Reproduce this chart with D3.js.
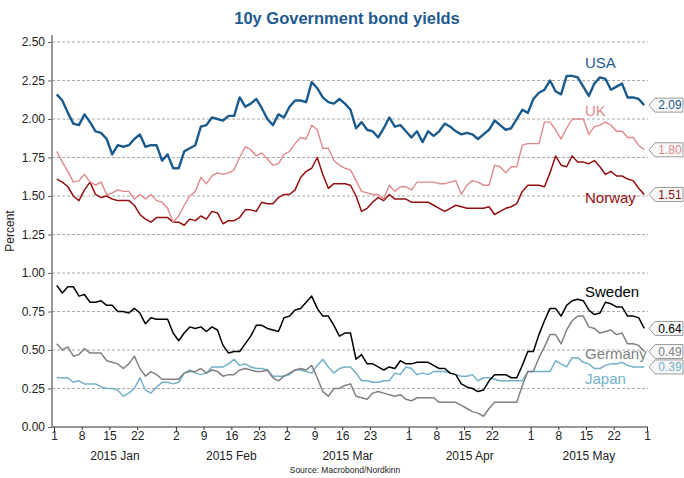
<!DOCTYPE html>
<html>
<head>
<meta charset="utf-8">
<script src="https://cdn.jsdelivr.net/npm/d3@7"></script>
<style>
  html, body { margin: 0; padding: 0; background: #fff; }
  svg { display: block; font-family: "Liberation Sans", Arial, sans-serif; }
</style>
</head>
<body>
<div id="chart"></div>
<script>
/* 10y government bond yields — business-day x axis, Jan 1 to Jun 1 2015 */

// x positions are business-day indexes (Jan 1 2015 = 0, Jun 1 = 107)
const tickIdx    = [0, 5, 10, 15, 22, 27, 32, 37, 42, 47, 52, 57, 64, 69, 74, 79, 86, 91, 96, 101, 107];
const tickLabels = ["1","8","15","22","2","9","16","23","2","9","16","23","1","8","15","22","1","8","15","22","1"];
const monthStart = [0, 22, 42, 64, 86, 107];
const monthNames = ["2015 Jan", "2015 Feb", "2015 Mar", "2015 Apr", "2015 May"];
const yTicks     = [0, 0.25, 0.5, 0.75, 1, 1.25, 1.5, 1.75, 2, 2.25, 2.5];

const usa = [
  2.16, 2.12, 2.04, 1.97, 1.96, 2.03, 1.98, 1.92, 1.91, 1.87,
  1.77, 1.83, 1.82, 1.83, 1.87, 1.90, 1.82, 1.83, 1.83, 1.73,
  1.77, 1.68, 1.68, 1.79, 1.81, 1.83, 1.95, 1.96, 2.01, 2.00,
  1.99, 2.02, 2.02, 2.14, 2.08, 2.10, 2.13, 2.07, 2.00, 1.96,
  2.03, 2.01, 2.08, 2.12, 2.12, 2.11, 2.24, 2.20, 2.14, 2.11,
  2.10, 2.13, 2.10, 2.06, 1.94, 1.98, 1.93, 1.92, 1.88, 1.94,
  2.01, 1.95, 1.96, 1.92, 1.88, 1.92, 1.85, 1.92, 1.89, 1.92,
  1.97, 1.95, 1.92, 1.90, 1.91, 1.90, 1.87, 1.90, 1.93, 1.99,
  1.96, 1.93, 1.94, 2.00, 2.06, 2.04, 2.13, 2.17, 2.19, 2.25,
  2.18, 2.16, 2.28, 2.28, 2.27, 2.21, 2.15, 2.23, 2.27, 2.26,
  2.19, 2.21, 2.23, 2.14, 2.14, 2.13, 2.09
];
const uk = [
  1.79, 1.72, 1.66, 1.59, 1.60, 1.64, 1.59, 1.57, 1.59, 1.51,
  1.52, 1.54, 1.53, 1.53, 1.48, 1.51, 1.48, 1.51, 1.47, 1.46,
  1.42, 1.33, 1.37, 1.44, 1.50, 1.53, 1.62, 1.58, 1.63, 1.65,
  1.64, 1.65, 1.67, 1.75, 1.82, 1.80, 1.76, 1.78, 1.74, 1.70,
  1.71, 1.77, 1.79, 1.84, 1.88, 1.87, 1.96, 1.93, 1.81, 1.81,
  1.73, 1.70, 1.68, 1.67, 1.60, 1.53, 1.52, 1.51, 1.51, 1.48,
  1.57, 1.53, 1.56, 1.56, 1.54, 1.59, 1.59, 1.59, 1.59, 1.58,
  1.58, 1.59, 1.60, 1.51, 1.57, 1.60, 1.59, 1.57, 1.57, 1.70,
  1.69, 1.65, 1.69, 1.69, 1.83, 1.84, 1.84, 1.84, 1.98, 1.98,
  1.93, 1.87, 1.94, 2.00, 2.00, 2.00, 1.90, 1.95, 1.96, 1.98,
  1.96, 1.92, 1.92, 1.88, 1.88, 1.83, 1.80
];
const norway = [
  1.61, 1.59, 1.56, 1.50, 1.47, 1.54, 1.59, 1.51, 1.49, 1.50,
  1.48, 1.47, 1.47, 1.47, 1.44, 1.38, 1.35, 1.33, 1.36, 1.36,
  1.36, 1.33, 1.33, 1.31, 1.35, 1.34, 1.37, 1.35, 1.40, 1.39,
  1.32, 1.34, 1.34, 1.36, 1.41, 1.41, 1.40, 1.46, 1.45, 1.45,
  1.49, 1.51, 1.51, 1.54, 1.62, 1.66, 1.68, 1.75, 1.64, 1.55,
  1.58, 1.58, 1.58, 1.57, 1.50, 1.40, 1.42, 1.46, 1.49, 1.47,
  1.51, 1.48, 1.48, 1.48, 1.46, 1.46, 1.46, 1.46, 1.44, 1.42,
  1.40, 1.42, 1.44, 1.43, 1.42, 1.42, 1.42, 1.42, 1.43, 1.38,
  1.40, 1.42, 1.43, 1.45, 1.53, 1.57, 1.57, 1.57, 1.56, 1.65,
  1.76, 1.70, 1.69, 1.76, 1.72, 1.72, 1.71, 1.73, 1.69, 1.64,
  1.66, 1.63, 1.63, 1.61, 1.60, 1.55, 1.51
];
const sweden = [
  0.92, 0.87, 0.91, 0.91, 0.85, 0.86, 0.81, 0.81, 0.82, 0.79,
  0.79, 0.75, 0.75, 0.74, 0.77, 0.74, 0.67, 0.71, 0.70, 0.70,
  0.70, 0.61, 0.56, 0.61, 0.65, 0.64, 0.65, 0.62, 0.65, 0.63,
  0.53, 0.48, 0.49, 0.49, 0.54, 0.59, 0.66, 0.66, 0.64, 0.63,
  0.62, 0.71, 0.72, 0.76, 0.77, 0.81, 0.85, 0.77, 0.72, 0.72,
  0.66, 0.59, 0.61, 0.61, 0.44, 0.47, 0.41, 0.41, 0.39, 0.37,
  0.39, 0.38, 0.43, 0.41, 0.41, 0.42, 0.42, 0.42, 0.40, 0.38,
  0.38, 0.35, 0.34, 0.28, 0.26, 0.25, 0.23, 0.24, 0.30, 0.34,
  0.34, 0.34, 0.32, 0.32, 0.40, 0.49, 0.49, 0.60, 0.69, 0.77,
  0.77, 0.72, 0.79, 0.82, 0.83, 0.82, 0.76, 0.73, 0.74, 0.81,
  0.80, 0.78, 0.78, 0.72, 0.72, 0.71, 0.64
];
const germany = [
  0.54, 0.50, 0.52, 0.46, 0.47, 0.51, 0.48, 0.48, 0.48, 0.43,
  0.42, 0.41, 0.38, 0.41, 0.46, 0.38, 0.33, 0.36, 0.34, 0.31,
  0.31, 0.31, 0.31, 0.35, 0.36, 0.36, 0.38, 0.35, 0.37, 0.36,
  0.33, 0.34, 0.34, 0.37, 0.38, 0.37, 0.36, 0.36, 0.37, 0.32,
  0.30, 0.33, 0.35, 0.37, 0.38, 0.37, 0.40, 0.32, 0.23, 0.20,
  0.25, 0.25, 0.27, 0.28, 0.20, 0.19, 0.18, 0.22, 0.23, 0.22,
  0.21, 0.20, 0.21, 0.18, 0.17, 0.19, 0.19, 0.19, 0.19, 0.16,
  0.16, 0.16, 0.16, 0.14, 0.12, 0.10, 0.09, 0.07, 0.12, 0.16,
  0.16, 0.16, 0.16, 0.16, 0.27, 0.36, 0.36, 0.45, 0.52, 0.60,
  0.60, 0.54, 0.63, 0.69, 0.72, 0.72, 0.65, 0.64, 0.61, 0.62,
  0.63, 0.60, 0.61, 0.54, 0.54, 0.53, 0.49
];
const japan = [
  0.32, 0.32, 0.32, 0.29, 0.30, 0.28, 0.28, 0.28, 0.26, 0.25,
  0.25, 0.24, 0.20, 0.22, 0.25, 0.32, 0.24, 0.22, 0.26, 0.29,
  0.29, 0.28, 0.29, 0.35, 0.37, 0.35, 0.34, 0.35, 0.39, 0.39,
  0.39, 0.41, 0.44, 0.40, 0.41, 0.39, 0.38, 0.38, 0.37, 0.33,
  0.33, 0.33, 0.34, 0.37, 0.37, 0.36, 0.35, 0.40, 0.44, 0.39,
  0.35, 0.38, 0.39, 0.39, 0.35, 0.30, 0.30, 0.29, 0.29, 0.30,
  0.30, 0.35, 0.34, 0.39, 0.38, 0.34, 0.35, 0.34, 0.36, 0.36,
  0.36, 0.35, 0.34, 0.33, 0.33, 0.34, 0.30, 0.32, 0.32, 0.31,
  0.30, 0.30, 0.30, 0.30, 0.30, 0.36, 0.36, 0.36, 0.36, 0.36,
  0.43, 0.41, 0.39, 0.45, 0.45, 0.42, 0.41, 0.38, 0.38, 0.40,
  0.41, 0.41, 0.42, 0.40, 0.39, 0.39, 0.39
];

const SERIES = [
  { name: "USA",     values: usa,     color: "#1b5a8c", width: 2.4, labelY: 63 },
  { name: "UK",      values: uk,      color: "#e0898a", width: 1.4, labelY: 111 },
  { name: "Norway",  values: norway,  color: "#930f0f", width: 1.5, labelY: 198 },
  { name: "Sweden",  values: sweden,  color: "#000000", width: 1.5, labelY: 292 },
  { name: "Germany", values: germany, color: "#808080", width: 1.5, labelY: 354 },
  { name: "Japan",   values: japan,   color: "#72afc9", width: 1.5, labelY: 379 },
];

const W = 684, H = 478;
const plotL = 52, plotR = 648, plotT = 35, plotB = 427;

const svg = d3.select("#chart").append("svg")
  .attr("width", W).attr("height", H);

const x = d3.scaleLinear().domain([0, 107]).range([54, 647]);
const y = d3.scaleLinear().domain([0, 2.5]).range([plotB, 42]);

// Title
svg.append("text")
  .attr("x", 347).attr("y", 24)
  .attr("text-anchor", "middle")
  .attr("font-size", 16.5).attr("font-weight", "bold")
  .attr("fill", "#1f5a8f")
  .text("10y Government bond yields");

// Gridlines
svg.append("g")
  .selectAll("line")
  .data(yTicks.filter(d => d > 0))
  .join("line")
  .attr("x1", plotL).attr("x2", plotR)
  .attr("y1", d => y(d)).attr("y2", d => y(d))
  .attr("stroke", "#a8a8a8").attr("stroke-width", 1)
  .attr("stroke-dasharray", "3,2");

// Y axis
const yAxis = svg.append("g")
  .attr("transform", `translate(${plotL},0)`)
  .call(d3.axisLeft(y).tickValues(yTicks).tickFormat(d3.format(".2f")).tickSize(4).tickSizeOuter(0));
yAxis.select(".domain").remove();
yAxis.selectAll(".tick line").attr("stroke", "#666");
yAxis.selectAll(".tick text").attr("font-size", 12).attr("fill", "#222")
  .attr("font-family", "Liberation Sans, Arial, sans-serif");
svg.append("line")
  .attr("x1", plotL).attr("x2", plotL).attr("y1", plotT).attr("y2", plotB)
  .attr("stroke", "#777").attr("stroke-width", 1.5);

svg.append("text")
  .attr("transform", `translate(14,${(plotT + plotB) / 2}) rotate(-90)`)
  .attr("text-anchor", "middle")
  .attr("font-size", 12).attr("fill", "#222")
  .text("Percent");

// X axis — day ticks, month labels under them
const xAxis = svg.append("g")
  .attr("transform", `translate(0,${plotB})`)
  .call(d3.axisBottom(x).tickValues(tickIdx).tickFormat((d, i) => tickLabels[i]).tickSize(3).tickSizeOuter(0));
xAxis.select(".domain").remove();
xAxis.selectAll(".tick line")
  .attr("stroke", "#333")
  .attr("y2", d => monthStart.includes(d) ? 5 : 3);
xAxis.selectAll(".tick text").attr("font-size", 12).attr("fill", "#222")
  .attr("dy", "0.55em")
  .attr("font-family", "Liberation Sans, Arial, sans-serif");
svg.append("line")
  .attr("x1", plotL).attr("x2", plotR).attr("y1", plotB).attr("y2", plotB)
  .attr("stroke", "#333").attr("stroke-width", 1.2);

svg.append("g")
  .selectAll("text")
  .data(monthNames)
  .join("text")
  .attr("x", (d, i) => x((monthStart[i] + monthStart[i + 1]) / 2))
  .attr("y", 460)
  .attr("text-anchor", "middle")
  .attr("font-size", 12).attr("fill", "#222")
  .text(d => d);

svg.append("text")
  .attr("x", 345).attr("y", 473)
  .attr("text-anchor", "middle")
  .attr("font-size", 8.5).attr("fill", "#222")
  .text("Source: Macrobond/Nordkinn");

// Lines (points sit in the middle of each business day)
const line = d3.line()
  .x((d, i) => x(i + 0.5))
  .y(d => y(d));

svg.append("g")
  .selectAll("path")
  .data(SERIES.slice().reverse())
  .join("path")
  .attr("fill", "none")
  .attr("stroke", d => d.color)
  .attr("stroke-width", d => d.width)
  .attr("stroke-linejoin", "round")
  .attr("d", d => line(d.values));

// Series names
svg.append("g")
  .selectAll("text")
  .data(SERIES)
  .join("text")
  .attr("x", 585).attr("y", d => d.labelY)
  .attr("dy", "0.35em")
  .attr("font-size", 15)
  .attr("fill", d => d.color)
  .text(d => d.name);

// Last-value tags on the right
const tags = svg.append("g")
  .selectAll("g")
  .data(SERIES)
  .join("g")
  .attr("transform", d => `translate(649,${y(d.values[d.values.length - 1])})`);

tags.append("path")
  .attr("d", "M0,0 L6,-7 L34,-7 L34,7 L6,7 Z")
  .attr("fill", "#f8f8f8")
  .attr("stroke", "#999").attr("stroke-width", 1);

tags.append("text")
  .attr("x", 21).attr("dy", "0.36em")
  .attr("text-anchor", "middle")
  .attr("font-size", 12)
  .attr("fill", d => d.color)
  .text(d => d3.format(".2f")(d.values[d.values.length - 1]));
</script>
</body>
</html>
